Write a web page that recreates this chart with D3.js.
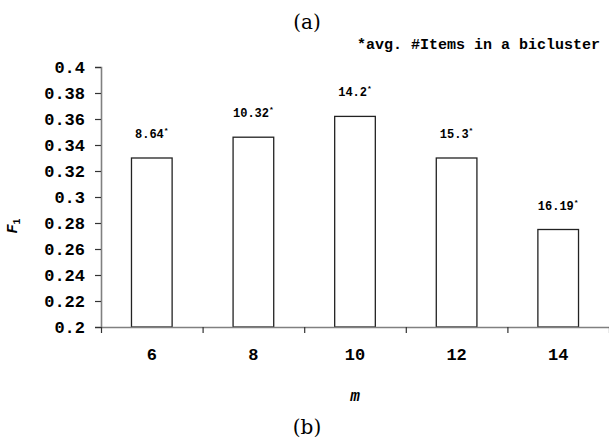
<!DOCTYPE html>
<html>
<head>
<meta charset="utf-8">
<script src="https://cdn.jsdelivr.net/npm/d3@7"></script>
<style>
  html, body { margin: 0; padding: 0; background: #fff; }
  svg { display: block; }
</style>
</head>
<body>
<svg id="chart" width="609" height="442"></svg>
<script>
const categories = ["6", "8", "10", "12", "14"];
const f1Values = [0.330, 0.346, 0.362, 0.330, 0.275];
const itemLabels = ["8.64", "10.32", "14.2", "15.3", "16.19"];
const yTickValues = [0.2, 0.22, 0.24, 0.26, 0.28, 0.3, 0.32, 0.34, 0.36, 0.38, 0.4];
const yTickLabels = ["0.2", "0.22", "0.24", "0.26", "0.28", "0.3", "0.32", "0.34", "0.36", "0.38", "0.4"];

const svg = d3.select("#chart");
const mono = "'Liberation Mono', 'Courier New', monospace";
const serif = "'DejaVu Serif', 'Liberation Serif', serif";

const plotLeft = 101, plotRight = 609, plotTop = 67, plotBottom = 327;

const x = d3.scaleBand().domain(categories).range([plotLeft, plotRight]).paddingInner(0.6).paddingOuter(0.3);
const y = d3.scaleLinear().domain([0.2, 0.4]).range([plotBottom, plotTop]);
const xb = d3.scaleLinear().domain([0, categories.length]).range([plotLeft, plotRight]);

// bars
svg.append("g").selectAll("rect").data(f1Values).join("rect")
  .attr("x", (d, i) => x(categories[i]))
  .attr("y", d => y(d))
  .attr("width", x.bandwidth())
  .attr("height", d => y(0.2) - y(d))
  .attr("fill", "#fff")
  .attr("stroke", "#222")
  .attr("stroke-width", 1.3);

// bar labels
const lab = svg.append("g").selectAll("text").data(itemLabels).join("text")
  .attr("x", (d, i) => x(categories[i]) + x.bandwidth() / 2)
  .attr("y", (d, i) => y(f1Values[i]) - 20)
  .attr("text-anchor", "middle")
  .attr("font-family", mono)
  .attr("font-weight", "bold")
  .attr("font-size", 12)
  .attr("fill", "#000");
lab.append("tspan").text(d => d);
lab.append("tspan").attr("font-size", 8).attr("dy", -5).text("*");

// y axis
const yAxis = svg.append("g").attr("transform", `translate(${plotLeft},0)`)
  .call(d3.axisLeft(y).tickValues(yTickValues)
    .tickFormat((d, i) => yTickLabels[i]).tickSize(6).tickPadding(10));
yAxis.select(".domain").attr("stroke", "#808080").attr("stroke-width", 1.6);
yAxis.selectAll(".tick line").attr("stroke", "#333").attr("stroke-width", 1.2);
yAxis.selectAll(".tick text").attr("font-family", mono).attr("font-weight", "bold")
  .attr("font-size", 17).attr("fill", "#000");

// x axis: boundary ticks
const xAxisB = svg.append("g").attr("transform", `translate(0,${plotBottom})`)
  .call(d3.axisBottom(xb).ticks(categories.length).tickFormat("").tickSize(6).tickSizeOuter(0));
xAxisB.select(".domain").attr("stroke", "#808080").attr("stroke-width", 1.6);
xAxisB.selectAll(".tick line").attr("stroke", "#333").attr("stroke-width", 1.2);

// x axis: category labels
const xAxisL = svg.append("g").attr("transform", `translate(0,${plotBottom})`)
  .call(d3.axisBottom(x).tickSize(0).tickPadding(21));
xAxisL.select(".domain").remove();
xAxisL.selectAll(".tick text").attr("font-family", mono).attr("font-weight", "bold")
  .attr("font-size", 17).attr("fill", "#000");

// axis titles
svg.append("text").attr("x", (plotLeft + plotRight) / 2).attr("y", 401)
  .attr("text-anchor", "middle").attr("font-family", mono)
  .attr("font-weight", "bold").attr("font-style", "italic").attr("font-size", 16)
  .text("m");

const f1 = svg.append("text").attr("transform", "translate(17,226) rotate(-90)")
  .attr("text-anchor", "middle").attr("font-family", mono)
  .attr("font-weight", "bold").attr("font-size", 15);
f1.append("tspan").attr("font-style", "italic").text("F");
f1.append("tspan").attr("font-size", 10).attr("dy", 3).text("1");

// legend note
svg.append("text").attr("x", 357).attr("y", 49)
  .attr("font-family", mono).attr("font-weight", "bold").attr("font-size", 15)
  .text("*avg. #Items in a bicluster");

// panel captions
svg.append("text").attr("x", 307).attr("y", 29).attr("text-anchor", "middle")
  .attr("font-family", serif).attr("font-size", 20).text("(a)");
svg.append("text").attr("x", 307).attr("y", 434).attr("text-anchor", "middle")
  .attr("font-family", serif).attr("font-size", 20).text("(b)");
</script>
</body>
</html>
